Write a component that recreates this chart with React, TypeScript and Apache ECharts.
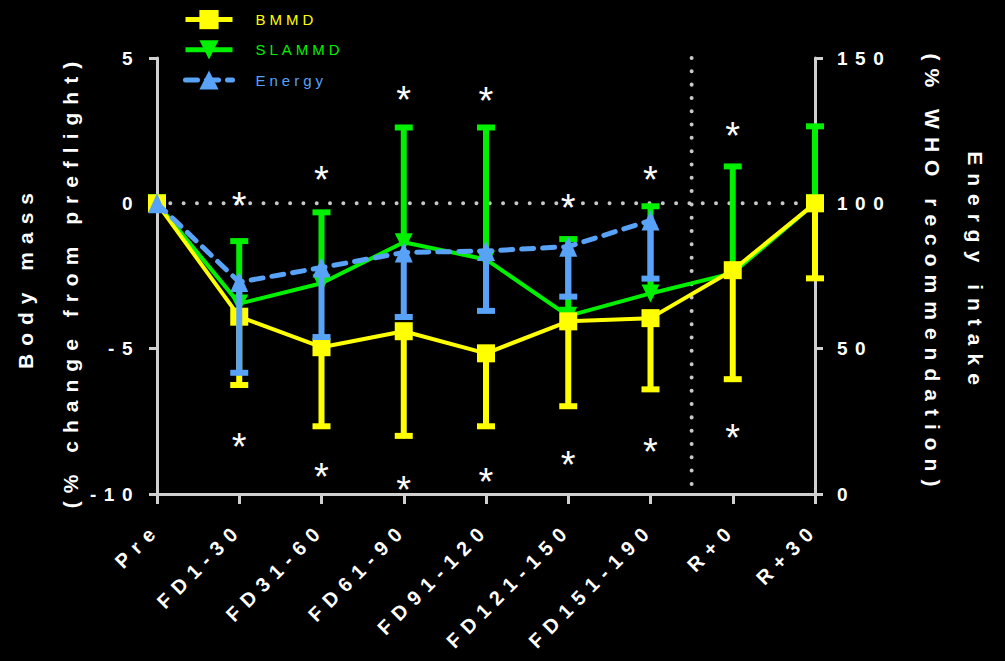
import React, { useEffect, useRef } from 'react';
import * as echarts from 'echarts';

const categories = ['Pre', 'FD1-30', 'FD31-60', 'FD61-90', 'FD91-120', 'FD121-150', 'FD151-190', 'R+0', 'R+30'];
const bmmdMean = [0, -3.9, -4.95, -4.4, -5.16, -4.06, -3.95, -2.3, 0];
const bmmdLower = [null, -6.25, -7.67, -8.0, -7.67, -6.98, -6.4, -6.05, -2.58];
const slammdMean = [0, -3.45, -2.75, -1.34, -1.93, -3.87, -3.1, -2.4, 0];
const slammdUpper = [null, -1.3, -0.31, 2.61, 2.61, -1.23, -0.1, 1.27, 2.65];
const energyMean = [100, 72.9, 77.9, 83.1, 83.6, 85.1, 94.1, null, null];
const energyLower = [null, 41.7, 54, 60.9, 63, 67.9, 74.1, null, null];
const starsAbove = [null, 0.2, 1.1, 3.85, 3.82, 0.14, 1.1, 2.61, null];
const starsBelow = [null, -8.08, -9.12, -9.56, -9.29, -8.7, -8.26, -7.78, null];
const leftAxisRange = { min: -10, max: 5, interval: 5 };
const rightAxisRange = { min: 0, max: 150, interval: 50 };

const YELLOW = '#ffff00';
const GREEN = '#00f000';
const BLUE = '#58a2f7';
const AXIS = '#d0d0d0';
const FONT = '"Liberation Sans", Arial, sans-serif';
const STAR_SIZE = 38;

function errorBars(mean: (number | null)[], end: (number | null)[], color: string, yAxisIndex: number, z: number) {
  const data: number[][] = [];
  mean.forEach((m, i) => {
    const e = end[i];
    if (m != null && e != null) data.push([i, m, e]);
  });
  return {
    type: 'custom',
    yAxisIndex,
    z,
    silent: true,
    data,
    encode: { x: 0, y: [1, 2] },
    renderItem: (params: any, api: any) => {
      const i = api.value(0);
      const p1 = api.coord([i, api.value(1)]);
      const p2 = api.coord([i, api.value(2)]);
      return {
        type: 'group',
        children: [
          { type: 'line', shape: { x1: p1[0], y1: p1[1], x2: p2[0], y2: p2[1] }, style: { stroke: color, lineWidth: 6 } },
          { type: 'line', shape: { x1: p2[0] - 9, y1: p2[1], x2: p2[0] + 9, y2: p2[1] }, style: { stroke: color, lineWidth: 6 } },
        ],
      };
    },
  };
}

function stars(values: (number | null)[]) {
  const data: number[][] = [];
  values.forEach((v, i) => {
    if (v != null) data.push([i, v]);
  });
  return {
    type: 'custom',
    z: 6,
    silent: true,
    data,
    encode: { x: 0, y: 1 },
    renderItem: (params: any, api: any) => {
      const p = api.coord([api.value(0), api.value(1)]);
      return {
        type: 'text',
        x: p[0],
        y: p[1] + STAR_SIZE * 0.22,
        style: { text: '*', fill: '#ffffff', font: `${STAR_SIZE}px ${FONT}`, align: 'center', verticalAlign: 'middle' },
      };
    },
  };
}

export default function App() {
  const ref = useRef<HTMLDivElement>(null);
  useEffect(() => {
    if (!ref.current) return;
    const chart = echarts.init(ref.current, null, { renderer: 'svg' });
    const dotted = { stroke: '#c8c8c8', lineWidth: 4, lineDash: [0.01, 13.3], lineCap: 'round' };
    chart.setOption({
      animation: false,
      backgroundColor: '#000000',
      grid: { left: 157, right: 190, top: 58, bottom: 167, containLabel: false },
      legend: {
        orient: 'vertical',
        left: 178,
        top: 5,
        itemWidth: 47,
        itemHeight: 24,
        itemGap: 11,
        lineStyle: { width: 5 },
        textStyle: { fontSize: 15, fontFamily: FONT, padding: [0, 0, 0, 18] },
        data: [
          { name: 'BMMD', textStyle: { color: YELLOW } },
          { name: 'SLAMMD', textStyle: { color: GREEN } },
          { name: 'Energy', textStyle: { color: BLUE } },
        ],
      },
      xAxis: {
        type: 'category',
        data: categories,
        boundaryGap: false,
        axisLine: { onZero: false, lineStyle: { color: AXIS, width: 3 } },
        axisTick: { show: true, length: 10, lineStyle: { color: AXIS, width: 3 } },
        axisLabel: { rotate: 45, color: '#ffffff', fontWeight: 'bold', fontSize: 20, fontFamily: FONT, margin: 32, interval: 0 },
        splitLine: { show: false },
      },
      yAxis: [
        {
          type: 'value',
          position: 'left',
          ...leftAxisRange,
          axisLine: { show: true, lineStyle: { color: AXIS, width: 3 } },
          axisTick: { show: true, length: 8, lineStyle: { color: AXIS, width: 3 } },
          axisLabel: { color: '#ffffff', fontWeight: 'bold', fontSize: 19, fontFamily: FONT, margin: 17 },
          splitLine: { show: false },
        },
        {
          type: 'value',
          position: 'right',
          ...rightAxisRange,
          axisLine: { show: true, lineStyle: { color: AXIS, width: 3 } },
          axisTick: { show: true, length: 8, lineStyle: { color: AXIS, width: 3 } },
          axisLabel: { color: '#ffffff', fontWeight: 'bold', fontSize: 19, fontFamily: FONT, margin: 22 },
          splitLine: { show: false },
        },
      ],
      graphic: [
        { type: 'text', x: 25, y: 277, rotation: Math.PI / 2, style: { text: 'Body mass', fill: '#ffffff', font: `bold 21px ${FONT}`, align: 'center', verticalAlign: 'middle' } },
        { type: 'text', x: 70, y: 281, rotation: Math.PI / 2, style: { text: '(% change from preflight)', fill: '#ffffff', font: `bold 21px ${FONT}`, align: 'center', verticalAlign: 'middle' } },
        { type: 'text', x: 975, y: 272, rotation: -Math.PI / 2, style: { text: 'Energy intake', fill: '#ffffff', font: `bold 21px ${FONT}`, align: 'center', verticalAlign: 'middle' } },
        { type: 'text', x: 932, y: 274, rotation: -Math.PI / 2, style: { text: '(% WHO recommendation)', fill: '#ffffff', font: `bold 21px ${FONT}`, align: 'center', verticalAlign: 'middle' } },
      ],
      series: [
        {
          type: 'custom',
          z: 1,
          silent: true,
          data: [[0, 0]],
          encode: { x: 0, y: 1 },
          renderItem: (params: any, api: any) => {
            const a = api.coord([0, 0]);
            const b = api.coord([categories.length - 1, 0]);
            const c6 = api.coord([6, leftAxisRange.max]);
            const c7 = api.coord([7, leftAxisRange.min]);
            const xm = (c6[0] + c7[0]) / 2;
            return {
              type: 'group',
              children: [
                { type: 'line', shape: { x1: a[0], y1: a[1], x2: b[0], y2: b[1] }, style: dotted },
                { type: 'line', shape: { x1: xm, y1: c6[1], x2: xm, y2: c7[1] }, style: dotted },
              ],
            };
          },
        },
        errorBars(slammdMean, slammdUpper, GREEN, 0, 2),
        {
          name: 'SLAMMD',
          type: 'line',
          data: slammdMean,
          z: 2,
          symbol: 'triangle',
          symbolRotate: 180,
          symbolSize: [18, 18],
          lineStyle: { color: GREEN, width: 4 },
          itemStyle: { color: GREEN },
        },
        errorBars(bmmdMean, bmmdLower, YELLOW, 0, 3),
        {
          name: 'BMMD',
          type: 'line',
          data: bmmdMean,
          z: 3,
          symbol: 'rect',
          symbolSize: 18,
          lineStyle: { color: YELLOW, width: 4 },
          itemStyle: { color: YELLOW },
        },
        errorBars(energyMean, energyLower, BLUE, 1, 4),
        {
          name: 'Energy',
          type: 'line',
          yAxisIndex: 1,
          data: energyMean,
          z: 4,
          symbol: 'triangle',
          symbolSize: [18, 20],
          lineStyle: { color: BLUE, width: 5, type: [12, 9], cap: 'round' },
          itemStyle: { color: BLUE },
        },
        stars(starsAbove),
        stars(starsBelow),
      ],
    });
    return () => chart.dispose();
  }, []);
  return (
    <>
      <style>{`
        #chart text[style*="21px"] { letter-spacing: 8px; }
        #chart text[style*="19px"] { letter-spacing: 7.5px; }
        #chart text[style*="20px"] { letter-spacing: 7.5px; }
        #chart text[style*="15px"] { letter-spacing: 4px; }
      `}</style>
      <div id="chart" ref={ref} style={{ position: 'fixed', left: 0, top: 0, width: 1005, height: 661, background: '#000' }} />
    </>
  );
}
